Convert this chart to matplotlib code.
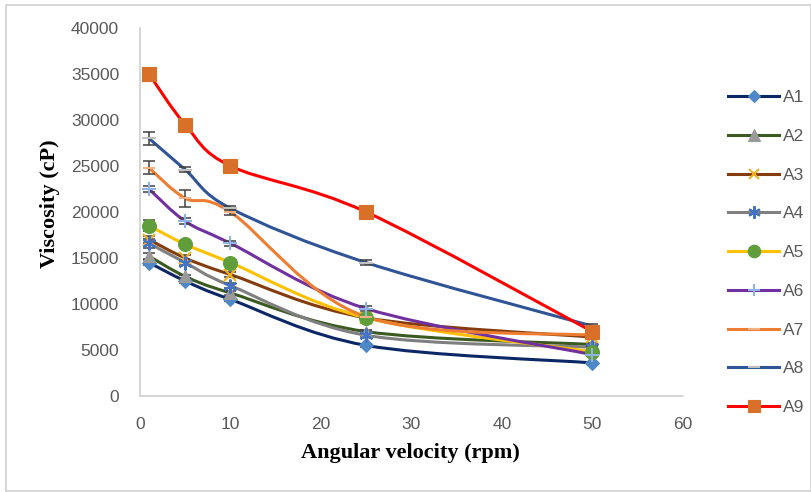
import matplotlib
matplotlib.use('Agg')
import matplotlib.pyplot as plt
from matplotlib.path import Path
from matplotlib.patches import PathPatch, Rectangle
from matplotlib.lines import Line2D
import numpy as np

rpm = [1, 5, 10, 25, 50]

A1 = [14500, 12500, 10500, 5500, 3600]
A2 = [15200, 13000, 11200, 7000, 5600]
A3 = [17000, 15000, 13200, 8500, 6400]
A4 = [16600, 14500, 12000, 6600, 5300]
A5 = [18500, 16500, 14500, 8500, 4800]
A6 = [22500, 19000, 16600, 9500, 4500]
A7 = [24800, 21500, 20000, 8600, 6600]
A8 = [28000, 24600, 20400, 14500, 7600]
A9 = [35000, 29500, 25000, 20000, 7000]

err_A1 = [300, 200, 200, 200, 150]
err_A2 = [300, 200, 200, 200, 150]
err_A3 = [400, 300, 300, 200, 150]
err_A4 = [500, 300, 300, 200, 150]
err_A5 = [600, 300, 300, 200, 150]
err_A6 = [300, 300, 300, 300, 150]
err_A7 = [700, 900, 300, 200, 150]
err_A8 = [700, 300, 300, 300, 200]
err_A9 = [0, 0, 0, 0, 0]

names = ['A1', 'A2', 'A3', 'A4', 'A5', 'A6', 'A7', 'A8', 'A9']
values = [A1, A2, A3, A4, A5, A6, A7, A8, A9]
errors = [err_A1, err_A2, err_A3, err_A4, err_A5, err_A6, err_A7, err_A8, err_A9]

line_colors = ['#0b2765', '#3a5a1f', '#843c0c', '#7f7f7f', '#ffc000',
               '#7030a0', '#ed7d31', '#2f5597', '#ff0000']
marker_colors = ['#4f88c6', '#9a9a9a', '#f0b020', '#4472c4', '#5f9e3a',
                 '#8fb4e3', '#f4b183', '#c0c0c0', '#d9702a']
markers = ['D', '^', 'x', (6, 2, 0), 'o', '+', '_', '_', 's']
msizes = [7, 9, 8, 10, 10, 10, 9, 10, 10]


def smooth_path(x, y):
    # Excel-like smoothed line: cubic bezier through points
    pts = np.column_stack([x, y]).astype(float)
    n = len(pts)
    verts = [pts[0]]
    codes = [Path.MOVETO]
    for i in range(n - 1):
        p0 = pts[i - 1] if i > 0 else pts[i]
        p1 = pts[i]
        p2 = pts[i + 1]
        p3 = pts[i + 2] if i + 2 < n else pts[i + 1]
        c1 = p1 + (p2 - p0) / 6.0
        c2 = p2 - (p3 - p1) / 6.0
        verts += [c1, c2, p2]
        codes += [Path.CURVE4] * 3
    return Path(verts, codes)


fig = plt.figure(figsize=(8.12, 4.92), dpi=100)
ax = fig.add_axes([0.1724, 0.1951, 0.841 - 0.1724, 0.943 - 0.1951])

handles = []
for i in range(len(names)):
    ax.add_patch(PathPatch(smooth_path(rpm, values[i]), fill=False,
                           edgecolor=line_colors[i], lw=2.2, zorder=2 + i * 0.1,
                           capstyle='round'))
    if any(errors[i]):
        ax.errorbar(rpm, values[i], yerr=errors[i], fmt='none', ecolor='#404040',
                    elinewidth=1.1, capsize=4, capthick=1.1, zorder=3)
    mew = 1.5 if markers[i] in ['x', '+', '_'] or i == 3 else 0.8
    ax.plot(rpm, values[i], linestyle='none', marker=markers[i], ms=msizes[i],
            color=marker_colors[i], mec=marker_colors[i], mew=mew, zorder=4 + i * 0.1)
    handles.append(Line2D([0], [0], color=line_colors[i], lw=2.2,
                          marker=markers[i], ms=msizes[i] - 1,
                          mfc=marker_colors[i], mec=marker_colors[i], mew=mew))

ax.set_xlim(0, 60)
ax.set_ylim(0, 40000)
ax.set_xticks(range(0, 61, 10))
ax.set_yticks(range(0, 40001, 5000))
ax.tick_params(length=0, labelsize=12.5, labelcolor='#595959')
ax.tick_params(axis='x', pad=15)
ax.tick_params(axis='y', pad=15)
for lab in ax.get_xticklabels() + ax.get_yticklabels():
    lab.set_family('Liberation Sans')
for s in ['top', 'right']:
    ax.spines[s].set_visible(False)
for s in ['left', 'bottom']:
    ax.spines[s].set_color('#d0d0d0')
    ax.spines[s].set_linewidth(1.2)

ax.set_xlabel('Angular velocity (rpm)', fontsize=16, fontweight='bold',
              family='Liberation Serif', va='center')
ax.set_ylabel('Viscosity (cP)', fontsize=16, fontweight='bold',
              family='Liberation Serif', va='center')
ax.xaxis.set_label_coords(0.499, -0.155)
ax.yaxis.set_label_coords(-0.166, 0.522)

leg = fig.legend(handles, names, loc='upper left', bbox_to_anchor=(728 / 812, 1 - 90 / 492),
                 frameon=False, handlelength=2.95, labelspacing=1.36, borderpad=0,
                 borderaxespad=0, prop={'family': 'Liberation Sans', 'size': 12.5},
                 handletextpad=0.2)
for t in leg.get_texts():
    t.set_color('#595959')

fig.patches.append(Rectangle((6 / 812, 1 / 492), 805 / 812, 486 / 492,
                             transform=fig.transFigure, fill=False,
                             edgecolor='#d0d0d0', lw=1.2))

fig.savefig('out.png', dpi=100)
